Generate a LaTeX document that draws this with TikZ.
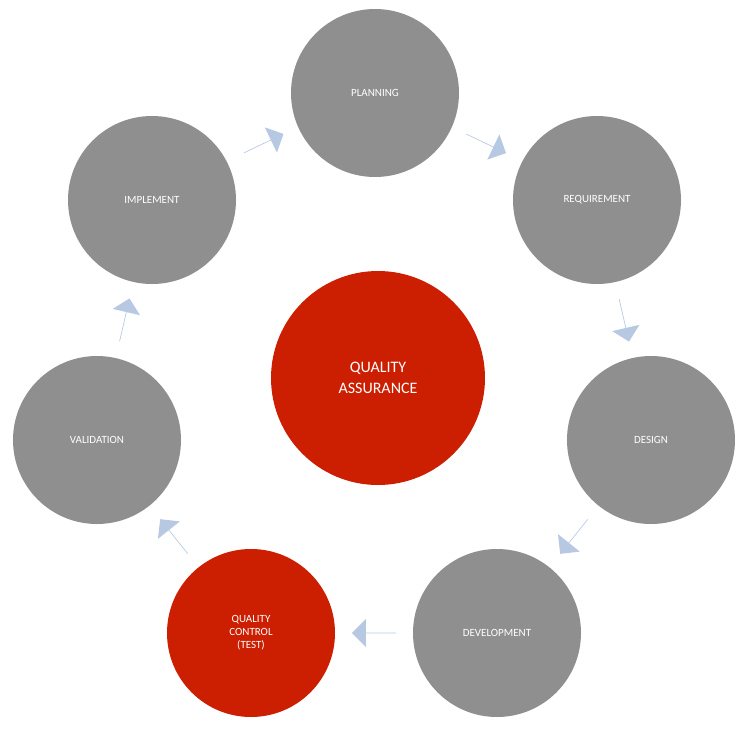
\documentclass[tikz,border=0pt]{standalone}
\usepackage{fontspec}
\setmainfont{Carlito}
\usetikzlibrary{shapes.arrows,calc}
\definecolor{grayc}{HTML}{8F8F8F}
\definecolor{redc}{HTML}{CC1E00}
\definecolor{arrc}{HTML}{B7C9E2}
\tikzset{
  stage/.style={circle,fill=grayc,minimum size=168pt,inner sep=0,text=white,font=\fontsize{11}{13}\selectfont,align=center},
  redstage/.style={stage,fill=redc},
  flow/.style={single arrow,fill=arrc,draw=none,minimum height=44pt,minimum width=28pt,single arrow head extend=8pt,inner sep=0}
}
\begin{document}
\begin{tikzpicture}[x=1pt,y=-1pt]
\useasboundingbox (0,0) rectangle (748,729);
\node[stage] (plan) at (375,93) {PLANNING};
\node[stage] (req) at (597,200) {REQUIREMENT};
\node[stage] (des) at (651,440) {DESIGN};
\node[stage] (dev) at (497,633) {DEVELOPMENT};
\node[redstage] (qc) at (251,633) {QUALITY\\CONTROL\\(TEST)};
\node[stage] (val) at (97,440) {VALIDATION};
\node[stage] (imp) at (152,200) {IMPLEMENT};
\node[redstage,minimum size=214pt,font=\fontsize{16}{21}\selectfont] (qa) at (378,378) {QUALITY\\ASSURANCE};
\node[flow,rotate=25.6] (a1) at ($(imp)!0.5!(plan)+(0,-3)$) {};
\node[flow,rotate=-25.6] (a2) at ($(plan)!0.5!(req)+(0,-3)$) {};
\node[flow,rotate=-77] (a3) at ($(req)!0.5!(des)$) {};
\node[flow,rotate=-128.6] (a4) at ($(des)!0.5!(dev)$) {};
\node[flow,rotate=180] (a5) at ($(dev)!0.5!(qc)$) {};
\node[flow,rotate=128.6] (a6) at ($(qc)!0.5!(val)$) {};
\node[flow,rotate=77] (a7) at ($(val)!0.5!(imp)$) {};
\end{tikzpicture}
\end{document}
